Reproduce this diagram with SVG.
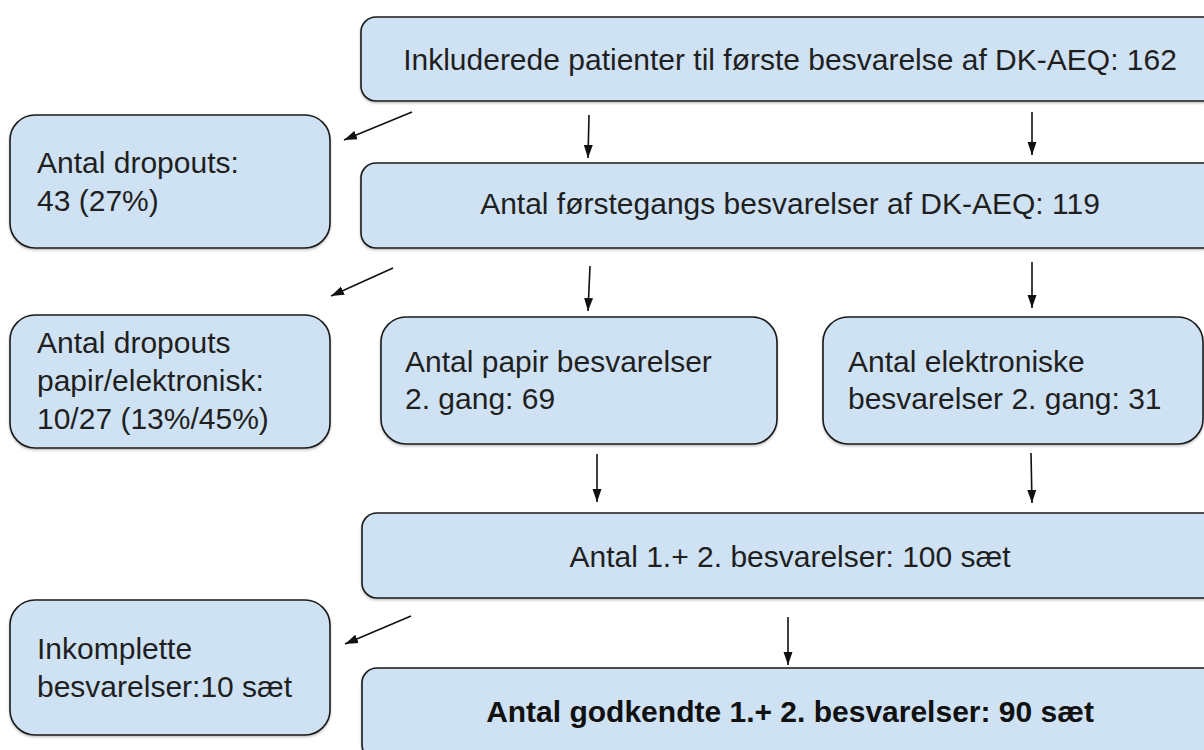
<svg xmlns="http://www.w3.org/2000/svg" width="1204" height="750" viewBox="0 0 1204 750">
<style>
.box{fill:#cfe2f3;stroke:#1a1a1a;stroke-width:1.6;filter:url(#sh)}
.t{font-family:"Liberation Sans",Arial,sans-serif;font-size:30px;fill:#1f1f1f}
.c{text-anchor:middle}
.b{font-weight:bold;fill:#111}
.a{stroke:#111;stroke-width:1.6;fill:none;marker-end:url(#ah)}
</style>
<defs>
<filter id="sh" x="-5%" y="-5%" width="110%" height="115%">
<feDropShadow dx="0" dy="1.5" stdDeviation="1" flood-color="#000" flood-opacity="0.25"/>
</filter>
<marker id="ah" markerUnits="userSpaceOnUse" markerWidth="14" markerHeight="10" refX="13" refY="5" orient="auto">
<path d="M0,0.5 L13,5 L0,9.5 Z" fill="#111"/>
</marker>
</defs>
<rect width="1204" height="750" fill="#fff"/>
<g id="n1"><rect class="box" x="361" y="17" width="858" height="84" rx="15"/><text class="t c" x="790" y="70">Inkluderede patienter til første besvarelse af DK-AEQ: 162</text></g>
<g id="n2"><rect class="box" x="10" y="115" width="320" height="133" rx="25"/><text class="t" x="37" y="173">Antal dropouts:</text><text class="t" x="37" y="211">43 (27%)</text></g>
<g id="n3"><rect class="box" x="361" y="163" width="858" height="85" rx="15"/><text class="t c" x="790" y="214">Antal førstegangs besvarelser af DK-AEQ: 119</text></g>
<g id="n4"><rect class="box" x="10" y="315" width="320" height="133" rx="25"/><text class="t" x="37" y="353">Antal dropouts</text><text class="t" x="37" y="391">papir/elektronisk:</text><text class="t" x="37" y="429">10/27 (13%/45%)</text></g>
<g id="n5"><rect class="box" x="381" y="317" width="396" height="127" rx="25"/><text class="t" x="405" y="372">Antal papir besvarelser</text><text class="t" x="405" y="409">2. gang: 69</text></g>
<g id="n6"><rect class="box" x="823" y="317" width="380" height="127" rx="25"/><text class="t" x="848" y="372">Antal elektroniske</text><text class="t" x="848" y="409">besvarelser 2. gang: 31</text></g>
<g id="n7"><rect class="box" x="362" y="513" width="857" height="85" rx="15"/><text class="t c" x="790" y="567">Antal 1.+ 2. besvarelser: 100 sæt</text></g>
<g id="n8"><rect class="box" x="10" y="600" width="320" height="135" rx="25"/><text class="t" x="37" y="659">Inkomplette</text><text class="t" x="37" y="697">besvarelser:10 sæt</text></g>
<g id="n9"><rect class="box" x="362" y="668" width="857" height="92" rx="15"/><text class="t c b" x="790" y="722">Antal godkendte 1.+ 2. besvarelser: 90 sæt</text></g>
<g id="connectors">
<line class="a" x1="412" y1="112" x2="344" y2="140"/>
<line class="a" x1="589" y1="115" x2="588" y2="158"/>
<line class="a" x1="1032" y1="112" x2="1032" y2="155"/>
<line class="a" x1="393" y1="268" x2="331" y2="296"/>
<line class="a" x1="590" y1="266" x2="588" y2="311"/>
<line class="a" x1="1032" y1="262" x2="1032" y2="308"/>
<line class="a" x1="597" y1="454" x2="597" y2="502"/>
<line class="a" x1="1031" y1="453" x2="1032" y2="503"/>
<line class="a" x1="411" y1="616" x2="345" y2="644"/>
<line class="a" x1="788" y1="617" x2="788" y2="665"/>
</g>
</svg>
